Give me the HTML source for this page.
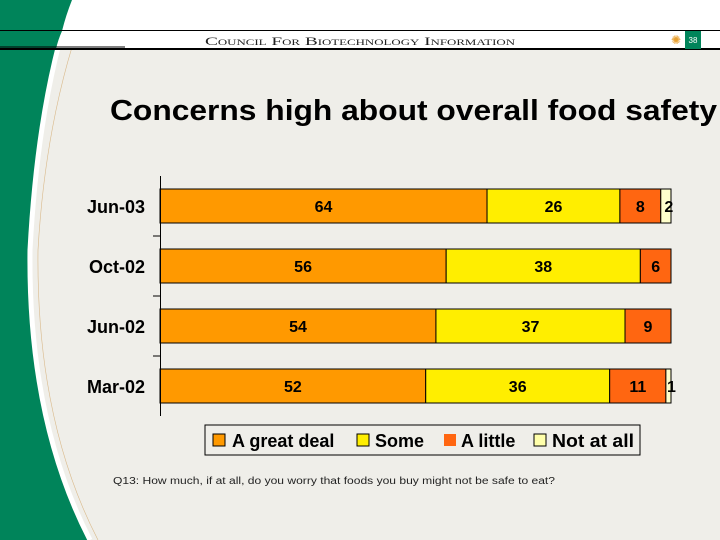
<!DOCTYPE html>
<html><head><meta charset="utf-8"><style>
body{margin:0;width:720px;height:540px;overflow:hidden;background:#efeee9;font-family:"Liberation Sans",sans-serif}
svg{display:block}
</style></head><body>
<svg width="720" height="540" xmlns="http://www.w3.org/2000/svg">
<rect width="720" height="540" fill="#efeee9"/>
<path d="M0,0 L72,0 Q38,100 30,250 Q28,420 90,540 L0,540 Z" fill="#00845a"/>
<path d="M72,0 Q38,100 30,250 Q28,420 90,540" fill="none" stroke="#fff" stroke-width="5"/>
<path d="M88,0 Q46,110 38,250 Q36,420 98,540" fill="none" stroke="#d9b98a" stroke-width="0.6"/>
<rect x="0" y="0" width="720" height="31" fill="#fff"/>
<rect x="0" y="31" width="720" height="18" fill="#fff"/>
<path d="M0,0 L72,0 Q66,15 62,31 L0,31Z" fill="#00845a"/>
<path d="M0,31 L62,31 Q58,40 56,49 L0,49Z" fill="#00845a"/>
<line x1="0" y1="30.5" x2="720" y2="30.5" stroke="#000" stroke-width="1"/>
<line x1="0" y1="49" x2="720" y2="49" stroke="#000" stroke-width="2"/>
<line x1="0" y1="47" x2="125" y2="47" stroke="#000" stroke-width="1"/>
<text x="205" y="45" textLength="310" lengthAdjust="spacingAndGlyphs" font-family="Liberation Serif,serif" font-size="12" font-variant="small-caps" fill="#222">Council For Biotechnology Information</text>
<text x="671" y="44" font-size="12" fill="#e8a030">✺</text>
<rect x="685" y="31" width="16" height="18" fill="#00845a"/>
<text x="693" y="43" text-anchor="middle" font-size="8" fill="#fff">38</text>
<text x="110" y="120" font-size="29" font-weight="bold" textLength="607" lengthAdjust="spacingAndGlyphs" fill="#000">Concerns high about overall food safety</text>
<g id="chart"></g>
<g>
<rect x="205" y="425" width="435" height="30" fill="none" stroke="#000" stroke-width="1"/>
<rect x="213" y="434" width="12" height="12" fill="#ff9900" stroke="#000"/><text x="232" y="447" font-size="18" font-weight="bold">A great deal</text>
<rect x="357" y="434" width="12" height="12" fill="#ffee00" stroke="#000"/><text x="375" y="447" font-size="18" font-weight="bold">Some</text>
<rect x="444" y="434" width="12" height="12" fill="#ff6611"/><text x="461" y="447" font-size="18" font-weight="bold">A little</text>
<rect x="534" y="434" width="12" height="12" fill="#ffffaa" stroke="#000"/><text x="552" y="447" font-size="18" font-weight="bold" textLength="82" lengthAdjust="spacingAndGlyphs">Not at all</text>
</g>
<text x="113" y="484" font-size="10" textLength="442" lengthAdjust="spacingAndGlyphs" fill="#222">Q13:  How much, if at all, do you worry that foods you buy might not be safe to eat?</text>
</svg>
<script>
const categories=["Jun-03","Oct-02","Jun-02","Mar-02"];
const greatDeal=[64,56,54,52];
const some=[26,38,37,36];
const aLittle=[8,6,9,11];
const notAtAll=[2,0,0,1];
const seriesNames=["great-deal","some","a-little","not-at-all"];
const colors=["#ff9900","#ffee00","#ff6611","#ffffcc"];
const NS="http://www.w3.org/2000/svg";
const g=document.getElementById('chart');
const x0=160,pxPer=5.11,top0=176,band=60,barH=34;
const xs=v=>x0+v*pxPer;
const yb=i=>top0+13+i*band;
function mk(t,a){const e=document.createElementNS(NS,t);for(const k in a)e.setAttribute(k,a[k]);g.appendChild(e);return e;}
const all=[greatDeal,some,aLittle,notAtAll];
categories.forEach((c,i)=>{
 let acc=0;
 all.forEach((s,j)=>{
  const v=s[i]; if(!v)return;
  const r=mk('rect',{x:xs(acc),y:yb(i),width:v*pxPer,height:barH,fill:colors[j],stroke:'#000','stroke-width':1});
  
  
  const tx=(v<3)?xs(acc)+v*pxPer/2+3:xs(acc)+v*pxPer/2;
  const t=mk('text',{x:tx,y:yb(i)+23,'text-anchor':'middle','font-size':16,'font-weight':'bold',fill:'#000'});
  t.textContent=v;
  
  
  acc+=v;
 });
 const l=mk('text',{x:145,y:yb(i)+24,'text-anchor':'end','font-size':18,'font-weight':'bold'});
 l.textContent=c;
 
 
 if(i>0){const tk=mk('line',{x1:153,x2:160,y1:top0+i*band,y2:top0+i*band,stroke:'#000'});
 
 }
});
const ax=mk('line',{x1:160.5,x2:160.5,y1:top0,y2:top0+band*categories.length,stroke:'#000'});


</script>
</body></html>
